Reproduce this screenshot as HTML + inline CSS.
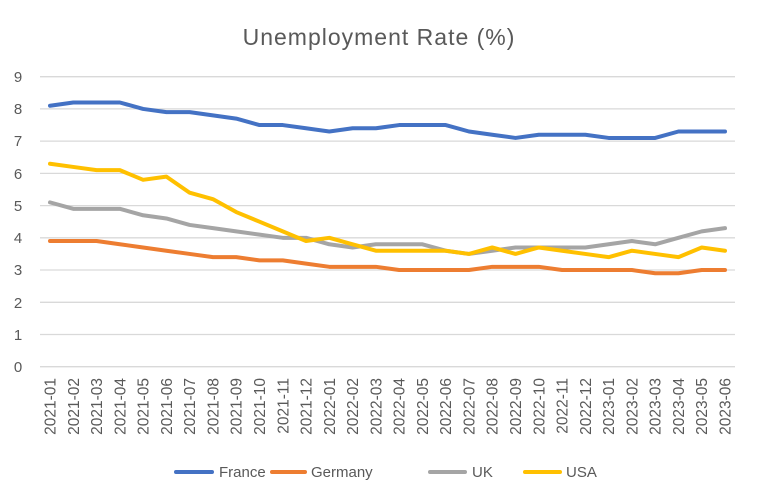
<!DOCTYPE html>
<html><head><style>body{margin:0;background:#fff}svg{display:block;font-family:"Liberation Sans",sans-serif}</style></head><body>
<svg width="758" height="503" viewBox="0 0 758 503">
<text x="379" y="45" text-anchor="middle" font-size="23" letter-spacing="1" fill="#595959">Unemployment Rate (%)</text>
<g stroke="#d9d9d9" stroke-width="1.3">
<line x1="40" x2="735" y1="76.7" y2="76.7"/><line x1="40" x2="735" y1="108.9" y2="108.9"/><line x1="40" x2="735" y1="141.1" y2="141.1"/><line x1="40" x2="735" y1="173.4" y2="173.4"/><line x1="40" x2="735" y1="205.6" y2="205.6"/><line x1="40" x2="735" y1="237.8" y2="237.8"/><line x1="40" x2="735" y1="270" y2="270"/><line x1="40" x2="735" y1="302.3" y2="302.3"/><line x1="40" x2="735" y1="334.5" y2="334.5"/><line x1="40" x2="735" y1="366.7" y2="366.7"/>
</g>
<g font-size="15" fill="#595959" text-anchor="middle">
<text x="18" y="82">9</text><text x="18" y="114">8</text><text x="18" y="146">7</text><text x="18" y="179">6</text><text x="18" y="211">5</text><text x="18" y="243">4</text><text x="18" y="275">3</text><text x="18" y="308">2</text><text x="18" y="340">1</text><text x="18" y="372">0</text>
</g>
<g transform="translate(50,366.7) scale(23.276,-32.22)" fill="none" stroke-width="4" stroke-linejoin="round" stroke-linecap="round">
<polyline vector-effect="non-scaling-stroke" stroke="#4472c4" points="0,8.1 1,8.2 2,8.2 3,8.2 4,8.0 5,7.9 6,7.9 7,7.8 8,7.7 9,7.5 10,7.5 11,7.4 12,7.3 13,7.4 14,7.4 15,7.5 16,7.5 17,7.5 18,7.3 19,7.2 20,7.1 21,7.2 22,7.2 23,7.2 24,7.1 25,7.1 26,7.1 27,7.3 28,7.3 29,7.3"/>
<polyline vector-effect="non-scaling-stroke" stroke="#ed7d31" points="0,3.9 1,3.9 2,3.9 3,3.8 4,3.7 5,3.6 6,3.5 7,3.4 8,3.4 9,3.3 10,3.3 11,3.2 12,3.1 13,3.1 14,3.1 15,3.0 16,3.0 17,3.0 18,3.0 19,3.1 20,3.1 21,3.1 22,3.0 23,3.0 24,3.0 25,3.0 26,2.9 27,2.9 28,3.0 29,3.0"/>
<polyline vector-effect="non-scaling-stroke" stroke="#a5a5a5" points="0,5.1 1,4.9 2,4.9 3,4.9 4,4.7 5,4.6 6,4.4 7,4.3 8,4.2 9,4.1 10,4.0 11,4.0 12,3.8 13,3.7 14,3.8 15,3.8 16,3.8 17,3.6 18,3.5 19,3.6 20,3.7 21,3.7 22,3.7 23,3.7 24,3.8 25,3.9 26,3.8 27,4.0 28,4.2 29,4.3"/>
<polyline vector-effect="non-scaling-stroke" stroke="#ffc000" points="0,6.3 1,6.2 2,6.1 3,6.1 4,5.8 5,5.9 6,5.4 7,5.2 8,4.8 9,4.5 10,4.2 11,3.9 12,4.0 13,3.8 14,3.6 15,3.6 16,3.6 17,3.6 18,3.5 19,3.7 20,3.5 21,3.7 22,3.6 23,3.5 24,3.4 25,3.6 26,3.5 27,3.4 28,3.7 29,3.6"/>
</g>
<g font-size="15.5" fill="#595959" text-anchor="end">
<text transform="translate(55.5,378) rotate(-90)">2021-01</text>
<text transform="translate(78.8,378) rotate(-90)">2021-02</text>
<text transform="translate(102.1,378) rotate(-90)">2021-03</text>
<text transform="translate(125.3,378) rotate(-90)">2021-04</text>
<text transform="translate(148.6,378) rotate(-90)">2021-05</text>
<text transform="translate(171.9,378) rotate(-90)">2021-06</text>
<text transform="translate(195.2,378) rotate(-90)">2021-07</text>
<text transform="translate(218.4,378) rotate(-90)">2021-08</text>
<text transform="translate(241.7,378) rotate(-90)">2021-09</text>
<text transform="translate(265,378) rotate(-90)">2021-10</text>
<text transform="translate(288.3,378) rotate(-90)">2021-11</text>
<text transform="translate(311.5,378) rotate(-90)">2021-12</text>
<text transform="translate(334.8,378) rotate(-90)">2022-01</text>
<text transform="translate(358.1,378) rotate(-90)">2022-02</text>
<text transform="translate(381.4,378) rotate(-90)">2022-03</text>
<text transform="translate(404.6,378) rotate(-90)">2022-04</text>
<text transform="translate(427.9,378) rotate(-90)">2022-05</text>
<text transform="translate(451.2,378) rotate(-90)">2022-06</text>
<text transform="translate(474.5,378) rotate(-90)">2022-07</text>
<text transform="translate(497.7,378) rotate(-90)">2022-08</text>
<text transform="translate(521,378) rotate(-90)">2022-09</text>
<text transform="translate(544.3,378) rotate(-90)">2022-10</text>
<text transform="translate(567.6,378) rotate(-90)">2022-11</text>
<text transform="translate(590.8,378) rotate(-90)">2022-12</text>
<text transform="translate(614.1,378) rotate(-90)">2023-01</text>
<text transform="translate(637.4,378) rotate(-90)">2023-02</text>
<text transform="translate(660.7,378) rotate(-90)">2023-03</text>
<text transform="translate(683.9,378) rotate(-90)">2023-04</text>
<text transform="translate(707.2,378) rotate(-90)">2023-05</text>
<text transform="translate(730.5,378) rotate(-90)">2023-06</text>
</g>
<g stroke-width="4" stroke-linecap="round">
<line x1="176" x2="212" y1="472" y2="472" stroke="#4472c4"/>
<line x1="272" x2="305" y1="472" y2="472" stroke="#ed7d31"/>
<line x1="430" x2="465" y1="472" y2="472" stroke="#a5a5a5"/>
<line x1="525" x2="560" y1="472" y2="472" stroke="#ffc000"/>
</g>
<g font-size="15" fill="#595959">
<text x="219" y="477">France</text><text x="311" y="477">Germany</text><text x="472" y="477">UK</text><text x="566" y="477">USA</text>
</g>
</svg>
</body></html>
